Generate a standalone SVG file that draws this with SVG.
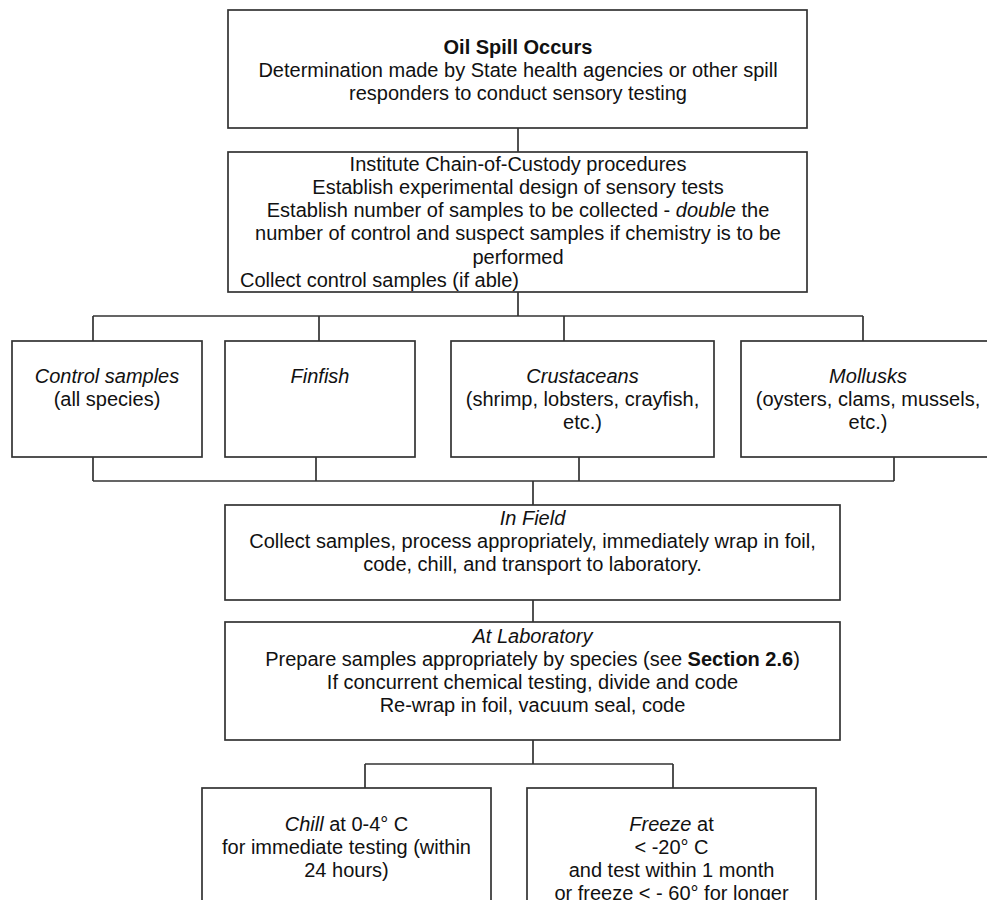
<svg xmlns="http://www.w3.org/2000/svg" width="987" height="900" viewBox="0 0 987 900">
<style>
.box{fill:#fff;stroke:#333;stroke-width:1.7}
.ln{fill:none;stroke:#333;stroke-width:1.7}
text{font-family:"Liberation Sans",Arial,sans-serif;font-size:20px;fill:#111;text-anchor:middle}
.b{font-weight:bold}
.i{font-style:italic}
</style>
<rect width="987" height="900" fill="#fff"/>
<g id="connectors">
<path class="ln" d="M518 128V152"/>
<path class="ln" d="M518 292V316M93 316H863M93 316V341M319 316V341M564 316V341M863 316V341"/>
<path class="ln" d="M93 457V481M316 457V481M579 457V481M894 457V481M93 481H894M533 481V505"/>
<path class="ln" d="M533 600V622"/>
<path class="ln" d="M533 740V764M365 764H673M365 764V788M673 764V788"/>
</g>
<g id="oil-spill">
<rect class="box" x="228" y="10" width="579" height="118"/>
<text x="518" y="54" class="b">Oil Spill Occurs</text>
<text x="518" y="77">Determination made by State health agencies or other spill</text>
<text x="518" y="100">responders to conduct sensory testing</text>
</g>
<g id="procedures">
<rect class="box" x="228" y="152" width="579" height="140"/>
<text x="518" y="171">Institute Chain-of-Custody procedures</text>
<text x="518" y="194">Establish experimental design of sensory tests</text>
<text x="518" y="217">Establish number of samples to be collected - <tspan class="i">double</tspan> the</text>
<text x="518" y="240">number of control and suspect samples if chemistry is to be</text>
<text x="518" y="264">performed</text>
<text x="240" y="287" style="text-anchor:start">Collect control samples (if able)</text>
</g>
<g id="control">
<rect class="box" x="12" y="341" width="190" height="116"/>
<text x="107" y="383" class="i">Control samples</text>
<text x="107" y="406">(all species)</text>
</g>
<g id="finfish">
<rect class="box" x="225" y="341" width="190" height="116"/>
<text x="320" y="383" class="i">Finfish</text>
</g>
<g id="crustaceans">
<rect class="box" x="451" y="341" width="263" height="116"/>
<text x="582.5" y="383" class="i">Crustaceans</text>
<text x="582.5" y="406">(shrimp, lobsters, crayfish,</text>
<text x="582.5" y="429">etc.)</text>
</g>
<g id="mollusks">
<rect class="box" x="741" y="341" width="256" height="116"/>
<text x="868" y="383" class="i">Mollusks</text>
<text x="868" y="406">(oysters, clams, mussels,</text>
<text x="868" y="429">etc.)</text>
</g>
<g id="in-field">
<rect class="box" x="225" y="505" width="615" height="95"/>
<text x="532.5" y="525" class="i">In Field</text>
<text x="532.5" y="548">Collect samples, process appropriately, immediately wrap in foil,</text>
<text x="532.5" y="571">code, chill, and transport to laboratory.</text>
</g>
<g id="at-laboratory">
<rect class="box" x="225" y="622" width="615" height="118"/>
<text x="532.5" y="643" class="i">At Laboratory</text>
<text x="532.5" y="666">Prepare samples appropriately by species (see <tspan class="b">Section 2.6</tspan>)</text>
<text x="532.5" y="689">If concurrent chemical testing, divide and code</text>
<text x="532.5" y="712">Re-wrap in foil, vacuum seal, code</text>
</g>
<g id="chill">
<rect class="box" x="202" y="788" width="289" height="140"/>
<text x="346.5" y="831"><tspan class="i">Chill</tspan> at 0-4° C</text>
<text x="346.5" y="854">for immediate testing (within</text>
<text x="346.5" y="877">24 hours)</text>
</g>
<g id="freeze">
<rect class="box" x="527" y="788" width="289" height="140"/>
<text x="671.5" y="831"><tspan class="i">Freeze</tspan> at</text>
<text x="671.5" y="854">&lt; -20° C</text>
<text x="671.5" y="877">and test within 1 month</text>
<text x="671.5" y="900">or freeze &lt; - 60° for longer</text>
</g>
</svg>
